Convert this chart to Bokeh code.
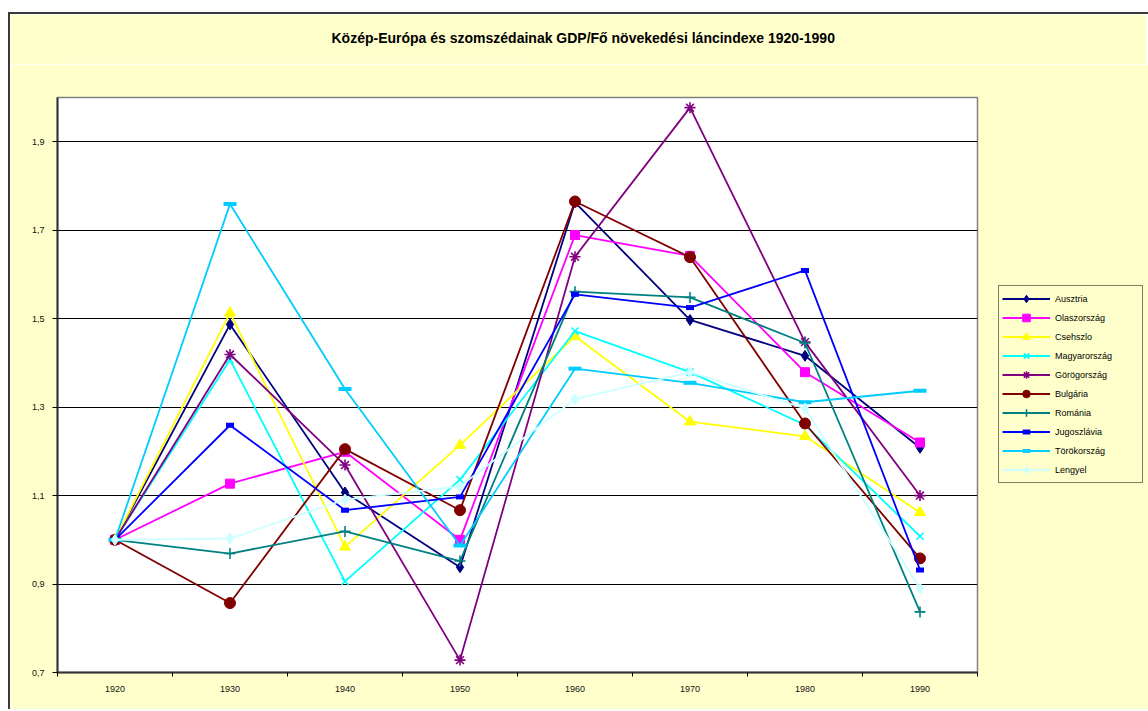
from bokeh.plotting import figure
from bokeh.models import FixedTicker, Legend, LegendItem, Spacer
from bokeh.layouts import column, row
from bokeh.embed import file_html
from bokeh.resources import INLINE

# ---- data ----
years = ["1920", "1930", "1940", "1950", "1960", "1970", "1980", "1990"]

names = ["Ausztria", "Olaszország", "Csehszlo", "Magyarország", "Görögország",
         "Bulgária", "Románia", "Jugoszlávia", "Törökország", "Lengyel"]

ausztria     = [1.000, 1.487, 1.107, 0.938, 1.763, 1.497, 1.416, 1.208]
olaszorszag  = [1.000, 1.127, 1.199, 1.000, 1.689, 1.642, 1.379, 1.220]
csehszlo     = [1.000, 1.513, 0.984, 1.214, 1.460, 1.267, 1.234, 1.062]
magyarorszag = [1.000, 1.407, 0.906, 1.136, 1.472, 1.379, 1.260, 1.008]
gorogorszag  = [1.000, 1.419, 1.169, 0.728, 1.640, 1.977, 1.447, 1.100]
bulgaria     = [1.000, 0.857, 1.205, 1.067, 1.765, 1.639, 1.263, 0.958]
romania      = [1.000, 0.969, 1.019, 0.952, 1.561, 1.548, 1.445, 0.837]
jugoszlavia  = [1.000, 1.259, 1.067, 1.097, 1.555, 1.525, 1.609, 0.932]
torokorszag  = [1.000, 1.759, 1.341, 0.987, 1.387, 1.355, 1.311, 1.337]
lengyel      = [1.000, 1.003, 1.091, 1.121, 1.318, 1.379, 1.297, 0.890]

series = [ausztria, olaszorszag, csehszlo, magyarorszag, gorogorszag,
          bulgaria, romania, jugoszlavia, torokorszag, lengyel]

y_ticks = [0.7, 0.9, 1.1, 1.3, 1.5, 1.7, 1.9]
title_text = "Közép-Európa és szomszédainak GDP/Fő növekedési láncindexe 1920-1990"

# ---- styles ----
colors = ["#000080", "#FF00FF", "#FFFF00", "#00FFFF", "#800080",
          "#800000", "#008080", "#0000FF", "#00CCFF", "#CCFFFF"]
markers = ["diamond", "square", "triangle", "x", "asterisk",
           "circle", "cross", "dash", "dash", "diamond"]
msizes = [11, 9, 11, 10, 11, 11, 11, 8, 13, 11]
mline = [1, 1, 1, 1.6, 1.6, 1, 1.6, 5, 4, 1]

FONT = "Liberation Sans"
BG = "#FFFFCC"
W = 1136
TITLE_H = 50

xs = [i + 0.5 for i in range(len(years))]

# ---- title strip (upper part of the yellow chart area) ----
tf = figure(width=W, height=TITLE_H, x_range=(0, 1), y_range=(0, 1),
            x_axis_location=None, y_axis_location=None,
            output_backend="svg", toolbar_location=None, min_border=0)
tf.grid.visible = False
tf.outline_line_color = None
tf.background_fill_color = BG
tf.border_fill_color = BG
tf.title.text = title_text
tf.title.align = "left"
tf.title.offset = 274
tf.title.standoff = 26
tf.title.vertical_align = "bottom"
tf.title.text_font = FONT
tf.title.text_font_size = "14px"
tf.title.text_font_style = "bold"
tf.title.text_color = "#000000"

# ---- main chart ----
p = figure(frame_width=920, frame_height=575,
           x_range=(0, len(years)), y_range=(0.7, 2.0),
           output_backend="svg", toolbar_location=None,
           min_border_left=47, min_border_right=169,
           min_border_top=33, min_border_bottom=37)
p.border_fill_color = BG
p.background_fill_color = "white"
p.outline_line_color = "#808080"
p.outline_line_width = 1.5

# x axis: labels at category centres, ticks at boundaries
xa = p.below[0]
xa.ticker = FixedTicker(ticks=xs, minor_ticks=list(range(len(years) + 1)))
xa.major_label_overrides = {x: y for x, y in zip(xs, years)}
xa.major_tick_out = 0
xa.major_tick_in = 0
xa.minor_tick_out = 4
xa.minor_tick_in = 0
xa.minor_tick_line_color = "#000000"
xa.major_label_standoff = 9
p.xgrid.visible = False

ya = p.left[0]
ya.ticker = FixedTicker(ticks=y_ticks)
ya.major_label_overrides = {t: ("%.1f" % t).replace(".", ",") for t in y_ticks}
ya.major_tick_out = 5
ya.major_tick_in = 0
ya.minor_tick_line_color = None
ya.major_label_standoff = 8
p.ygrid.ticker = FixedTicker(ticks=y_ticks)
p.ygrid.grid_line_color = "#000000"
p.ygrid.grid_line_width = 1

for ax in (xa, ya):
    ax.axis_line_color = "#333333"
    ax.axis_line_width = 2
    ax.major_tick_line_color = "#000000"
    ax.major_label_text_font = FONT
    ax.major_label_text_font_size = "9px"
    ax.major_label_text_color = "#111111"

items = []
for name, vals, c, m, s, lw in zip(names, series, colors, markers, msizes, mline):
    ln = p.line(xs, vals, line_color=c, line_width=1.8)
    if m == "dash":
        sc = p.scatter(xs, vals, marker="dash", size=s, line_color=c, line_width=lw)
    elif m in ("x", "asterisk", "cross"):
        sc = p.scatter(xs, vals, marker=m, size=s, line_color=c, line_width=lw)
    else:
        sc = p.scatter(xs, vals, marker=m, size=s, line_color=c, fill_color=c)
    items.append(LegendItem(label=name, renderers=[ln, sc]))

legend = Legend(items=items, location=(21, 189))
legend.background_fill_color = BG
legend.background_fill_alpha = 1
legend.border_line_color = "#000000"
legend.border_line_width = 1
legend.padding = 3
legend.spacing = 0
legend.margin = 11
legend.glyph_width = 48
legend.glyph_height = 19
legend.label_height = 19
legend.label_width = 84
legend.label_standoff = 5
legend.label_text_font = FONT
legend.label_text_font_size = "9px"
legend.label_text_color = "#000000"
p.add_layout(legend, "right")

chart_area = column(tf, p, spacing=0,
                    styles={"border-top": "2px solid #3a3a3a",
                            "border-left": "2px solid #3a3a3a"})

layout = row(Spacer(width=8, height=10), column(Spacer(height=12, width=10), chart_area))

open("out.html", "w").write(file_html(layout, INLINE))
